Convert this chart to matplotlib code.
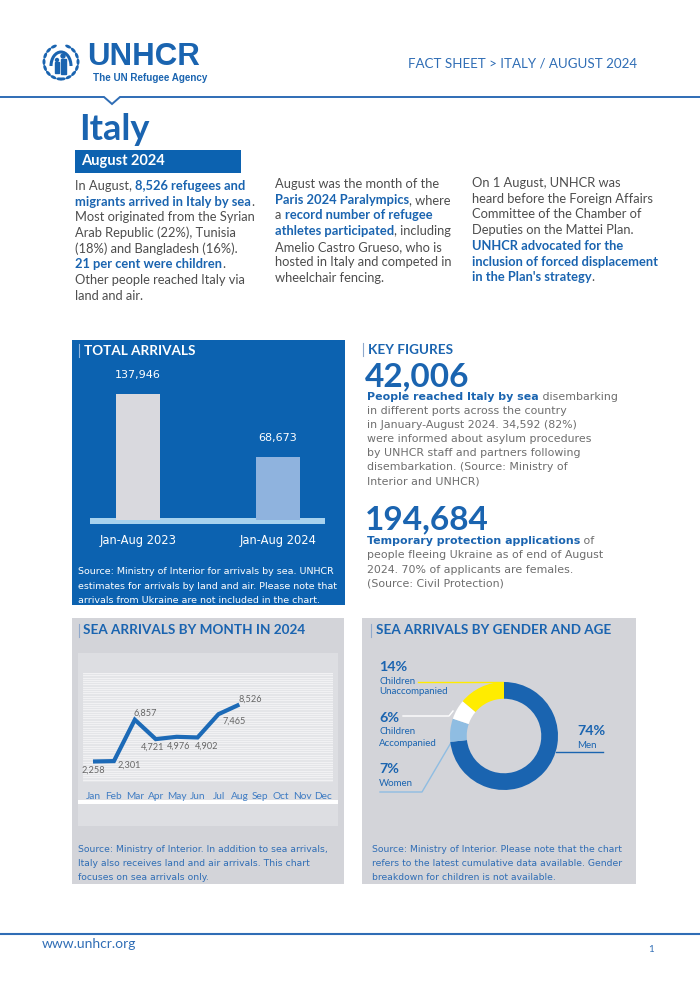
import numpy as np
import matplotlib
matplotlib.use("Agg")
import matplotlib.pyplot as plt
from matplotlib.patches import Rectangle, Ellipse, Arc

# --- Dane ---
total_labels = ["Jan-Aug 2023", "Jan-Aug 2024"]
total_values = [137946, 68673]

months = ["Jan", "Feb", "Mar", "Apr", "May", "Jun",
          "Jul", "Aug", "Sep", "Oct", "Nov", "Dec"]
sea_arrivals = [2258, 2301, 6857, 4721, 4976, 4902, 7465, 8526]

gender_labels = ["Men", "Women", "Children\nAccompanied", "Children\nUnaccompanied"]
gender_pct = [74, 7, 6, 14]

key_numbers = ["42,006", "194,684"]

# --- Kolory ---
BLUE = "#1a64b0"
DARK = "#0c62b0"
TXT = "#4d4d4d"
GREY_TXT = "#6e6e6e"
PANEL = "#d3d4d9"
LINK = "#2f6db5"

W, H = 700, 990
fig = plt.figure(figsize=(7, 9.9), dpi=100)
page = fig.add_axes([0, 0, 1, 1])
page.set_xlim(0, W)
page.set_ylim(H, 0)
page.axis("off")


def frac(x0, y0, x1, y1):
    return [x0 / W, 1 - y1 / H, (x1 - x0) / W, (y1 - y0) / H]


def rich(x, y, parts, size, family="Lato", base=TXT, hi=BLUE):
    t = None
    for txt, bold in parts:
        kw = dict(fontsize=size, family=family, color=hi if bold else base,
                  fontweight="bold" if bold else "normal")
        if t is None:
            t = page.text(x, y, txt, va="center", ha="left", **kw)
        else:
            t = page.annotate(txt, xy=(1, 0), xycoords=t, va="bottom", ha="left", **kw)


# --- Logo (uproszczony emblemat) ---
cx, cy, r = 61, 62, 17
for lo, hi_ in [(115, 265), (-85, 65)]:
    for a in np.linspace(lo, hi_, 8):
        th = np.deg2rad(a)
        page.add_patch(Ellipse((cx + r * np.cos(th), cy - r * np.sin(th)), 3.0, 6.5,
                               angle=-a, color=BLUE, lw=0))
page.add_patch(Arc((cx, cy + 4), 20, 28, theta1=180, theta2=360, color=BLUE, lw=2.2))
page.add_patch(Ellipse((cx + 2, cy - 6), 4, 4, color=BLUE))
page.add_patch(Rectangle((cx - 0.5, cy - 3), 5, 15, color=BLUE))
page.add_patch(Ellipse((cx - 4, cy - 2), 3, 3, color=BLUE))
page.add_patch(Rectangle((cx - 6, cy), 4, 11, color=BLUE))
page.text(87, 57, "UNHCR", fontsize=22.5, fontweight="bold", family="Liberation Sans",
          color=BLUE, va="center", ha="left")
page.text(93, 78, "The UN Refugee Agency", fontsize=7.1, fontweight="bold",
          family="Liberation Sans", color=BLUE, va="center", ha="left")

page.text(637, 63, "FACT SHEET > ITALY / AUGUST 2024", fontsize=9.6, family="Lato",
          color=LINK, va="center", ha="right")

# linia nagłówka z wcięciem
page.plot([0, 104, 112, 120, W], [97, 97, 104, 97, 97], color=LINK, lw=1.4,
          solid_joinstyle="miter")

# --- Tytuł ---
page.text(79, 129, "Italy", fontsize=26, fontweight="bold", family="Lato",
          color=BLUE, va="center", ha="left")
page.add_patch(Rectangle((75, 150), 166, 23, color=DARK, lw=0))
page.text(81, 161.5, "August 2024", fontsize=10.5, fontweight="bold", family="Lato",
          color="white", va="center", ha="left")

# --- Kolumny tekstu ---
col1 = [
    [("In August, ", False), ("8,526 refugees and", True)],
    [("migrants arrived in Italy by sea", True), (".", False)],
    [("Most originated from the Syrian", False)],
    [("Arab Republic (22%), Tunisia", False)],
    [("(18%) and Bangladesh (16%).", False)],
    [("21 per cent were children", True), (".", False)],
    [("Other people reached Italy via", False)],
    [("land and air.", False)],
]
col2 = [
    [("August was the month of the", False)],
    [("Paris 2024 Paralympics", True), (", where", False)],
    [("a ", False), ("record number of refugee", True)],
    [("athletes participated", True), (", including", False)],
    [("Amelio Castro Grueso, who is", False)],
    [("hosted in Italy and competed in", False)],
    [("wheelchair fencing.", False)],
]
col3 = [
    [("On 1 August, UNHCR was", False)],
    [("heard before the Foreign Affairs", False)],
    [("Committee of the Chamber of", False)],
    [("Deputies on the Mattei Plan.", False)],
    [("UNHCR advocated for the", True)],
    [("inclusion of forced displacement", True)],
    [("in the Plan's strategy", True), (".", False)],
]
for x0, y0, col in [(75, 186, col1), (275, 184, col2), (472, 183, col3)]:
    for i, parts in enumerate(col):
        rich(x0, y0 + i * 15.7, parts, 9.3)

# --- Panel: TOTAL ARRIVALS ---
page.add_patch(Rectangle((72, 340), 273, 265, color=DARK, lw=0))
page.plot([79, 79], [344, 357], color="#8fb6e0", lw=0.8)
page.text(84, 351, "TOTAL ARRIVALS", fontsize=9.7, fontweight="bold", family="Lato",
          color="white", va="center", ha="left")

axb = fig.add_axes(frac(90, 360, 325, 520))
axb.patch.set_alpha(0)
xpos = np.arange(len(total_values))
axb.bar(xpos, total_values, width=0.314, color=["#d9d9de", "#8fb3de"])
axb.set_xlim(-0.343, 1.336)
axb.set_ylim(0, 174900)
axb.axis("off")
for xi, v, lab in zip(xpos, total_values, total_labels):
    axb.annotate(f"{v:,}", xy=(xi, v), xytext=(0, 10), textcoords="offset points",
                 ha="center", va="bottom", color="white", fontsize=8.0,
                 family="DejaVu Sans")
    axb.annotate(lab, xy=(xi, 0), xytext=(0, -15), textcoords="offset points",
                 ha="center", va="center", color="white", fontsize=8.3,
                 family="DejaVu Sans")
page.add_patch(Rectangle((90, 518), 235, 6, color="#a8d2ee", lw=0))

src1 = ["Source: Ministry of Interior for arrivals by sea. UNHCR",
        "estimates for arrivals by land and air. Please note that",
        "arrivals from Ukraine are not included in the chart."]
for i, s in enumerate(src1):
    page.text(78, 572 + i * 14.3, s, fontsize=6.8, family="DejaVu Sans",
              color="white", va="center", ha="left")

# --- KEY FIGURES ---
page.plot([363, 363], [343, 356], color="#8fa9cc", lw=0.8)
page.text(368, 350, "KEY FIGURES", fontsize=9.7, fontweight="bold", family="Lato",
          color=BLUE, va="center", ha="left")
page.text(365, 377, key_numbers[0], fontsize=24, fontweight="bold", family="Lato",
          color=BLUE, va="center", ha="left")
kf1 = [
    [("People reached Italy by sea", True), (" disembarking", False)],
    [("in different ports across the country", False)],
    [("in January-August 2024. 34,592 (82%)", False)],
    [("were informed about asylum procedures", False)],
    [("by UNHCR staff and partners following", False)],
    [("disembarkation. (Source: Ministry of", False)],
    [("Interior and UNHCR)", False)],
]
for i, parts in enumerate(kf1):
    rich(367, 397 + i * 14, parts, 7.95, family="DejaVu Sans", base=GREY_TXT)
page.text(365, 520, key_numbers[1], fontsize=24, fontweight="bold", family="Lato",
          color=BLUE, va="center", ha="left")
kf2 = [
    [("Temporary protection applications", True), (" of", False)],
    [("people fleeing Ukraine as of end of August", False)],
    [("2024. 70% of applicants are females.", False)],
    [("(Source: Civil Protection)", False)],
]
for i, parts in enumerate(kf2):
    rich(367, 541 + i * 14.3, parts, 7.95, family="DejaVu Sans", base=GREY_TXT)

# --- Panel: SEA ARRIVALS BY MONTH ---
page.add_patch(Rectangle((72, 618), 272, 266, color=PANEL, lw=0))
page.plot([79, 79], [624, 637], color="#8fa9cc", lw=0.8)
page.text(83, 630, "SEA ARRIVALS BY MONTH IN 2024", fontsize=9.7, fontweight="bold",
          family="Lato", color=BLUE, va="center", ha="left")
page.add_patch(Rectangle((78, 653), 260, 173, color="#dddee2", lw=0))
page.add_patch(Rectangle((78, 800), 260, 4, color="white", lw=0))

axm = fig.add_axes(frac(83, 673, 333, 782))
axm.set_facecolor("#e4e5e8")
axm.set_xlim(-0.478, 11.478)
axm.set_ylim(0, 12000)
axm.set_yticks(np.arange(0, 12001, 250))
axm.yaxis.grid(True, color="#f4f4f6", lw=0.6)
axm.set_axisbelow(True)
axm.tick_params(axis="y", left=False, labelleft=False)
axm.set_xticks(range(len(months)))
axm.set_xticklabels(months)
axm.tick_params(axis="x", bottom=False, pad=3.5, labelsize=7.3, labelcolor="#3f7cc3")
for lbl in axm.get_xticklabels():
    lbl.set_family("Lato")
for s in axm.spines.values():
    s.set_visible(False)
mx = np.arange(len(sea_arrivals))
axm.plot(mx, sea_arrivals, color="#1c6ab7", lw=3, solid_joinstyle="miter",
         solid_capstyle="butt")
label_offsets = [(0, -6), (11, -3), (7.5, 5), (-2, -5.5), (1.5, -6.5), (6.5, -6),
                 (11.5, -5), (7.5, 4)]
for xi, v, (dx, dy) in zip(mx, sea_arrivals, label_offsets):
    axm.annotate(f"{v:,}", xy=(xi, v), xytext=(dx, dy), textcoords="offset points",
                 ha="center", va="center", fontsize=6.6, family="Lato",
                 color="#666666")

src2 = ["Source: Ministry of Interior. In addition to sea arrivals,",
        "Italy also receives land and air arrivals. This chart",
        "focuses on sea arrivals only."]
for i, s in enumerate(src2):
    page.text(78, 850 + i * 14, s, fontsize=6.7, family="DejaVu Sans",
              color=LINK, va="center", ha="left")

# --- Panel: SEA ARRIVALS BY GENDER AND AGE ---
page.add_patch(Rectangle((362, 618), 274, 266, color=PANEL, lw=0))
page.plot([371, 371], [624, 637], color="#8fa9cc", lw=0.8)
page.text(376, 630, "SEA ARRIVALS BY GENDER AND AGE", fontsize=9.7, fontweight="bold",
          family="Lato", color=BLUE, va="center", ha="left")

axd = fig.add_axes(frac(444, 676, 564, 796))
axd.pie(gender_pct, startangle=90, counterclock=False, radius=1,
        colors=[BLUE, "#8fbde2", "white", "#ffec00"],
        wedgeprops=dict(width=0.31, linewidth=0))
axd.set_xlim(-1.111, 1.111)
axd.set_ylim(-1.111, 1.111)
axd.set_aspect("equal")
axd.axis("off")


# etykiety pierścienia
def pct_label(x, y, pct, name):
    page.text(x, y, f"{pct}%", fontsize=10.3, fontweight="bold", family="Lato",
              color=BLUE, va="center", ha="left")
    for j, line in enumerate(name.split("\n")):
        page.text(x, y + 14 + j * 11, line, fontsize=7.0, family="Lato",
                  color=BLUE, va="center", ha="left")


pct_label(379, 667, gender_pct[3], gender_labels[3])
pct_label(379, 718, gender_pct[2], gender_labels[2])
pct_label(379, 769, gender_pct[1], gender_labels[1])
pct_label(577, 731, gender_pct[0], gender_labels[0])
page.plot([418, 503], [682, 682], color="#ffec00", lw=1)
page.plot([403, 449, 453], [716, 716, 711], color="white", lw=1)
page.plot([380, 422, 452], [792, 792, 741], color="#8fbde2", lw=1)
page.plot([556, 603], [752, 752], color=BLUE, lw=1)

src3 = ["Source: Ministry of Interior. Please note that the chart",
        "refers to the latest cumulative data available. Gender",
        "breakdown for children is not available."]
for i, s in enumerate(src3):
    page.text(372, 850 + i * 14, s, fontsize=6.7, family="DejaVu Sans",
              color=LINK, va="center", ha="left")

# --- Stopka ---
page.plot([0, W], [934, 934], color=LINK, lw=1.5)
page.text(42, 944, "www.unhcr.org", fontsize=10, family="Lato", color=LINK,
          va="center", ha="left")
page.text(651, 949, "1", fontsize=7, family="Lato", color=LINK, va="center", ha="center")

fig.savefig("out.png", dpi=100, facecolor="white")
